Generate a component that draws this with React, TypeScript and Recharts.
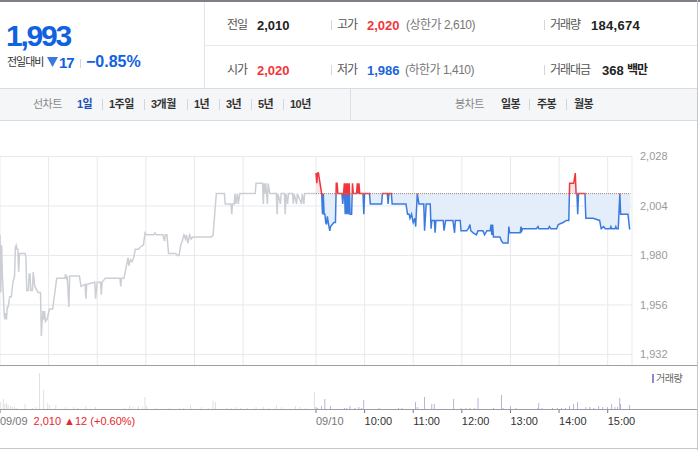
import { ComposedChart, Line, Area, Bar, Cell, XAxis, YAxis, CartesianGrid, ReferenceLine } from 'recharts';

const FONT = '"Liberation Sans", "Noto Sans CJK KR", sans-serif';

const PREV_CLOSE = 2010;
const DAY_MINUTES = 390;

// 09/09 intraday price, [minute from 09:00, price]
const prevTicks: [number, number][] = [
  [0, 1990], [1, 1962], [2, 1985], [3, 1970], [4, 1962], [5, 1952], [6, 1949], [7, 1952], [8, 1949], [9, 1955],
  [10, 1955], [12, 1960], [14, 1960], [16, 1967], [18, 1970], [19, 1984], [20, 1985], [21, 1983], [22, 1983], [23, 1972],
  [24, 1981], [31, 1981], [32, 1979], [33, 1963], [35, 1963], [36, 1971], [37, 1971], [38, 1963], [40, 1963], [41, 1972],
  [42, 1968], [43, 1965], [47, 1962], [50, 1962], [51, 1941], [52, 1948], [53, 1953], [54, 1949], [55, 1953], [56, 1948],
  [58, 1949], [61, 1954], [65, 1954], [70, 1969], [80, 1969], [81, 1971], [82, 1969], [83, 1970], [85, 1955], [86, 1970],
  [98, 1970], [100, 1965], [105, 1966], [106, 1959], [107, 1966], [117, 1967], [118, 1959], [120, 1967], [124, 1967], [125, 1961],
  [126, 1967], [130, 1969], [148, 1969], [149, 1965], [150, 1969], [153, 1969], [156, 1975], [158, 1979], [159, 1975], [161, 1978],
  [163, 1977], [165, 1979], [167, 1983], [171, 1983], [173, 1984], [177, 1985], [179, 1991], [181, 1990], [190, 1990], [191, 1991],
  [193, 1990], [201, 1990], [203, 1987], [204, 1990], [206, 1990], [208, 1981], [217, 1981], [219, 1980], [221, 1980], [223, 1985],
  [225, 1987], [227, 1990], [229, 1988], [230, 1990], [232, 1986], [234, 1990], [236, 1988], [238, 1989], [261, 1989], [263, 1990],
  [265, 2000], [267, 2010], [277, 2010], [278, 2005], [285, 2005], [286, 2000], [287, 2005], [289, 2005], [290, 2010], [291, 2005],
  [293, 2010], [294, 2005], [296, 2010], [315, 2010], [316, 2015], [324, 2015], [325, 2005], [326, 2015], [327, 2010], [328, 2015],
  [330, 2005], [331, 2015], [333, 2010], [341, 2010], [342, 2000], [343, 2010], [346, 2005], [347, 2010], [351, 2010], [352, 2000],
  [353, 2010], [355, 2005], [356, 2010], [361, 2010], [362, 2005], [363, 2010], [366, 2005], [367, 2010], [372, 2005], [373, 2010],
  [375, 2005], [376, 2010], [390, 2010],
];

// 09/10 intraday price, [minute from 09:00, price]
const todayTicks: [number, number][] = [
  [0, 2020], [1, 2015], [2, 2020], [3, 2020], [5, 2015], [7, 2010], [8, 2000], [9, 2010], [10, 2000], [11, 2000],
  [12, 1996], [13, 1995], [14, 1999], [16, 1994], [17, 1992], [18, 1994], [20, 1995], [22, 1996], [24, 1996], [25, 2015],
  [26, 2015], [27, 2010], [32, 2010], [33, 2005], [34, 2010], [35, 2015], [36, 2000], [37, 2015], [38, 2000], [39, 2015],
  [40, 2000], [41, 2015], [42, 2000], [44, 2000], [45, 2015], [46, 2010], [50, 2010], [51, 2015], [52, 2010], [53, 2015],
  [54, 2010], [58, 2010], [59, 2000], [60, 2010], [66, 2010], [67, 2005], [81, 2005], [82, 2010], [88, 2010], [89, 2005],
  [90, 2010], [93, 2010], [94, 2005], [111, 2005], [113, 2000], [115, 2000], [116, 1998], [118, 2000], [120, 1996], [122, 1998],
  [123, 1994], [125, 2010], [127, 2005], [133, 2005], [134, 1992], [136, 2005], [141, 2005], [142, 1993], [143, 1997], [146, 1997],
  [147, 1991], [148, 1997], [157, 1997], [158, 1992], [160, 1997], [169, 1997], [171, 1991], [172, 1997], [178, 1997], [179, 1992],
  [186, 1992], [188, 1993], [190, 1995], [191, 1992], [194, 1991], [198, 1990], [200, 1992], [206, 1992], [208, 1990], [211, 1992],
  [215, 1992], [216, 1995], [217, 1990], [218, 1995], [219, 1989], [227, 1989], [229, 1987], [231, 1986], [237, 1986], [238, 1994],
  [239, 1991], [252, 1991], [253, 1994], [254, 1992], [255, 1993], [272, 1993], [274, 1994], [275, 1993], [287, 1993], [288, 1994],
  [290, 1993], [297, 1993], [299, 1995], [305, 1996], [309, 1997], [312, 1997], [313, 2015], [318, 2015], [320, 2020], [321, 2010],
  [322, 2010], [323, 2000], [324, 2010], [332, 2010], [333, 1998], [334, 1998], [342, 1998], [350, 1997], [352, 1993], [355, 1994],
  [357, 1993], [363, 1993], [364, 1994], [365, 1993], [369, 1993], [370, 1994], [371, 1993], [373, 1993], [375, 2010], [376, 2000],
  [385, 2000], [387, 1993], [388, 1993],
];

// volume per minute, [minute across both days, shares]
const prevVolumes: [number, number][] = [
  [1, 7000], [4, 10000], [6, 5000], [8, 6000], [10, 4000], [13, 3000], [15, 2000], [18, 2000], [20, 1000], [31, 5000],
  [40, 1000], [44, 2000], [49, 36000], [54, 19000], [59, 6000], [61, 4000], [69, 4000], [81, 2000], [91, 2000], [96, 1000],
  [106, 3000], [118, 2000], [154, 1000], [160, 3000], [164, 2000], [171, 3000], [176, 2000], [179, 12000], [181, 3000], [192, 1000],
  [209, 1000], [222, 1000], [227, 1000], [235, 4000], [249, 2000], [257, 1000], [263, 8000], [266, 7000], [280, 1000], [285, 1000],
  [291, 2000], [297, 1000], [305, 1000], [316, 2000], [325, 2000], [332, 1000], [341, 4000], [348, 2000], [365, 3000], [370, 2000],
  [377, 1000], [388, 17000],
];

const todayVolumes: [number, number][] = [
  [390, 2000], [392, 1000], [397, 3000], [401, 10000], [408, 3000], [425, 1000], [428, 1000], [432, 3000], [438, 1000], [443, 2000],
  [446, 1000], [449, 9000], [468, 1000], [492, 1000], [496, 1000], [513, 7000], [515, 2000], [524, 12000], [533, 5000], [536, 5000],
  [560, 10000], [569, 1000], [575, 1000], [580, 1000], [586, 1000], [590, 11000], [609, 1000], [619, 14000], [621, 1000], [630, 3000],
  [637, 1000], [664, 1000], [665, 6000], [669, 1000], [682, 1000], [688, 1000], [693, 1000], [698, 1000], [703, 3000], [708, 5000],
  [713, 7000], [723, 2000], [728, 2000], [733, 1000], [739, 3000], [744, 2000], [750, 2000], [755, 5000], [759, 2000], [762, 2000],
  [765, 11000], [766, 5000], [777, 4000],
];

const priceAxisTicks = [1932, 1956, 1980, 2004, 2028];
const hourLines = [0, 60, 120, 180, 240, 300, 360, 390, 450, 510, 570, 630, 690, 750];
const timeTickMinutes = [0, 390, 450, 510, 570, 630, 690, 750];
const timeTickLabels = ['09/09', '09/10', '10:00', '11:00', '12:00', '13:00', '14:00', '15:00'];

const prevDayNote = '2,010 ▲12 (+0.60%)';

type PriceRow = { t: number; prev?: number; today?: number };

const priceRows: PriceRow[] = (() => {
  const byT = new Map<number, PriceRow>();
  prevTicks.forEach(([m, p]) => byT.set(m, { t: m, prev: p }));
  todayTicks.forEach(([m, p]) => {
    const t = DAY_MINUTES + m;
    const row = byT.get(t) ?? { t };
    row.today = p;
    byT.set(t, row);
  });
  return Array.from(byT.values()).sort((a, b) => a.t - b.t);
})();

const volumeRows = [
  ...prevVolumes.map(([t, v]) => ({ t, vol: v, day: 0 })),
  ...todayVolumes.map(([t, v]) => ({ t, vol: v, day: 1 })),
];

const todayPrices = todayTicks.map(([, p]) => p);
const hi = Math.max(...todayPrices);
const lo = Math.min(...todayPrices);
const splitFill = (hi - PREV_CLOSE) / (hi - lo);
const splitLine = (hi - PREV_CLOSE + 0.6) / (hi - lo);

const RED = '#f0363c';
const BLUE = '#3b7be0';

const TimeTick = (props: any) => {
  const { x, y, payload } = props;
  const i = timeTickMinutes.indexOf(payload.value);
  const dayLabel = i <= 1;
  return (
    <g>
      <line x1={x} x2={x} y1={y} y2={y + 4} stroke="#777" />
      <text x={x} y={y + 16} fontSize={11} fontFamily={FONT} fill={dayLabel ? '#777' : '#333'} textAnchor="start">
        {timeTickLabels[i]}
        {i === 0 && <tspan fill="#e8262b" dx={6}>{prevDayNote}</tspan>}
      </text>
    </g>
  );
};

const Txt = ({ x, y, size = 12, color = '#333', bold = false, ls = 0, children }: any) => (
  <span
    style={{
      position: 'absolute', left: x, top: y, transform: 'translateY(-50%)', lineHeight: 1,
      fontSize: size, color, fontWeight: bold ? 700 : 400, letterSpacing: ls, whiteSpace: 'nowrap',
    }}
  >
    {children}
  </span>
);

const Sep = ({ x, y, h = 10, color = '#d6d6d6' }: any) => (
  <div style={{ position: 'absolute', left: x, top: y - h / 2, width: 1, height: h, background: color }} />
);

const tabs = [
  { label: '1일', x: 77 }, { label: '1주일', x: 109 }, { label: '3개월', x: 151 }, { label: '1년', x: 194 },
  { label: '3년', x: 226 }, { label: '5년', x: 258 }, { label: '10년', x: 290 },
];
const candleTabs = [{ label: '일봉', x: 501 }, { label: '주봉', x: 537 }, { label: '월봉', x: 574 }];

export default function App() {
  return (
    <div style={{ position: 'absolute', left: 0, top: 0, width: 700, height: 450, background: '#fff', fontFamily: FONT, overflow: 'hidden' }}>
      {/* header */}
      <div style={{ position: 'absolute', left: 0, top: 0, width: 700, height: 2, background: '#7d8087' }} />
      <div style={{ position: 'absolute', left: 204, top: 2, width: 1, height: 86, background: '#e1e3e6' }} />
      <div style={{ position: 'absolute', left: 205, top: 45, width: 492, height: 1, background: '#e8e9eb' }} />

      <Txt x={6} y={36} size={30} bold color="#1062e0" ls={-2.2}>1,993</Txt>
      <Txt x={7} y={62} size={11} color="#333" ls={-1}>전일대비</Txt>
      <svg style={{ position: 'absolute', left: 47, top: 57 }} width={11} height={10}>
        <polygon points="0,0 11,0 5.5,10" fill="#3a78dc" />
      </svg>
      <Txt x={59} y={62} size={15} bold color="#1062e0" ls={-1}>17</Txt>
      <Sep x={80} y={63} h={9} />
      <Txt x={86} y={62} size={16} bold color="#1062e0">−0.85%</Txt>

      <Txt x={227} y={25} size={12} color="#555" ls={-1}>전일</Txt>
      <Txt x={257} y={25} size={13} bold color="#222">2,010</Txt>
      <Sep x={331} y={25} />
      <Txt x={337} y={25} size={12} color="#555" ls={-1}>고가</Txt>
      <Txt x={367} y={25} size={13} bold color={RED}>2,020</Txt>
      <Txt x={406} y={25} size={12} color="#777" ls={-0.5}>(상한가 2,610)</Txt>
      <Sep x={544} y={25} />
      <Txt x={550} y={25} size={12} color="#555" ls={-1}>거래량</Txt>
      <Txt x={591} y={25} size={13} bold color="#222" ls={0.3}>184,674</Txt>

      <Txt x={227} y={70} size={12} color="#555" ls={-1}>시가</Txt>
      <Txt x={257} y={70} size={13} bold color={RED}>2,020</Txt>
      <Sep x={331} y={70} />
      <Txt x={337} y={70} size={12} color="#555" ls={-1}>저가</Txt>
      <Txt x={367} y={70} size={13} bold color="#1b64da">1,986</Txt>
      <Txt x={405} y={70} size={12} color="#777" ls={-0.5}>(하한가 1,410)</Txt>
      <Sep x={544} y={70} />
      <Txt x={550} y={70} size={12} color="#555" ls={-1}>거래대금</Txt>
      <Txt x={602} y={70} size={13} bold color="#222">368</Txt>
      <Txt x={627} y={70} size={12} bold color="#222" ls={-1}>백만</Txt>

      {/* tab bar */}
      <div style={{ position: 'absolute', left: 0, top: 88, width: 698, height: 31, background: '#f5f6f8', borderTop: '1px solid #d9dce1', borderBottom: '1px solid #d9dce1' }} />
      <div style={{ position: 'absolute', left: 350, top: 89, width: 1, height: 31, background: '#dcdfe4' }} />
      <Txt x={33} y={104} size={11} color="#888" ls={-0.5}>선차트</Txt>
      {tabs.map((t, i) => (
        <span key={t.label}>
          <Txt x={t.x} y={104} size={11} bold color={i === 0 ? '#1f4fb5' : '#333'} ls={-0.5}>{t.label}</Txt>
          {i < tabs.length - 1 && <Sep x={tabs[i + 1].x - 7} y={104} h={11} color="#d4d6da" />}
        </span>
      ))}
      <Txt x={455} y={104} size={11} color="#888" ls={-0.5}>봉차트</Txt>
      {candleTabs.map((t, i) => (
        <span key={t.label}>
          <Txt x={t.x} y={104} size={11} bold color="#333" ls={-0.5}>{t.label}</Txt>
          {i < candleTabs.length - 1 && <Sep x={candleTabs[i + 1].x - 8} y={104} h={11} color="#d4d6da" />}
        </span>
      ))}

      {/* price chart */}
      <div style={{ position: 'absolute', left: 0, top: 120 }}>
        <ComposedChart width={700} height={246} data={priceRows} margin={{ top: 36.5, right: 0, bottom: 0, left: 0 }}>
          <defs>
            <linearGradient id="lineSplit" x1="0" y1="0" x2="0" y2="1">
              <stop offset={splitLine} stopColor={RED} />
              <stop offset={splitLine} stopColor={BLUE} />
            </linearGradient>
            <linearGradient id="fillSplit" x1="0" y1="0" x2="0" y2="1">
              <stop offset={splitFill} stopColor="#fde3e4" />
              <stop offset={splitFill} stopColor="#e4edfa" />
            </linearGradient>
          </defs>
          <CartesianGrid stroke="#e8e9ec" />
          <XAxis dataKey="t" type="number" domain={[0, 2 * DAY_MINUTES]} ticks={hourLines} hide />
          <YAxis
            orientation="right"
            width={68}
            domain={[1926.4, 2028]}
            ticks={priceAxisTicks}
            allowDataOverflow
            axisLine={false}
            tickLine={false}
            tick={{ fill: '#9a9a9a', fontSize: 11, fontFamily: FONT }}
            tickFormatter={(v: number) => v.toLocaleString('en-US')}
          />
          <Line type="linear" dataKey="prev" stroke="#cbcfd5" strokeWidth={1.5} dot={false} activeDot={false} isAnimationActive={false} />
          <Area
            type="linear"
            dataKey="today"
            baseValue={PREV_CLOSE}
            stroke="url(#lineSplit)"
            strokeWidth={1.5}
            fill="url(#fillSplit)"
            fillOpacity={1}
            dot={false}
            activeDot={false}
            isAnimationActive={false}
          />
          <ReferenceLine
            segment={[{ x: DAY_MINUTES, y: PREV_CLOSE }, { x: 2 * DAY_MINUTES - 2, y: PREV_CLOSE }]}
            stroke="#8d8d8d"
            strokeDasharray="1 1"
          />
        </ComposedChart>
      </div>

      {/* volume */}
      <div style={{ position: 'absolute', left: 0, top: 365, width: 697, height: 1, background: '#9b9ea3' }} />
      <div style={{ position: 'absolute', left: 0, top: 366 }}>
        <ComposedChart width={700} height={84} data={volumeRows} margin={{ top: 0, right: 68, bottom: 0, left: 0 }}>
          <XAxis
            dataKey="t"
            type="number"
            domain={[0, 2 * DAY_MINUTES]}
            ticks={timeTickMinutes}
            height={41}
            axisLine={false}
            tickLine={false}
            tickSize={0}
            tickMargin={0}
            tick={<TimeTick />}
            interval={0}
          />
          <YAxis hide domain={[0, 43000]} />
          <Bar dataKey="vol" barSize={2} isAnimationActive={false}>
            {volumeRows.map((r) => (
              <Cell key={`${r.day}-${r.t}`} fill={r.day === 0 ? '#d4d5d8' : '#a295d4'} />
            ))}
          </Bar>
        </ComposedChart>
      </div>
      <div style={{ position: 'absolute', left: 0, top: 409, width: 697, height: 1, background: '#9b9ea3' }} />
      <div style={{ position: 'absolute', left: 652, top: 374, width: 2, height: 9, background: '#9486cf' }} />
      <Txt x={656} y={379} size={10} color="#666" ls={-0.5}>거래량</Txt>

      {/* frame */}
      <div style={{ position: 'absolute', left: 697, top: 0, width: 1, height: 450, background: '#c3c6cb' }} />
      <div style={{ position: 'absolute', left: 0, top: 448, width: 698, height: 1, background: '#c3c6cb' }} />
    </div>
  );
}
